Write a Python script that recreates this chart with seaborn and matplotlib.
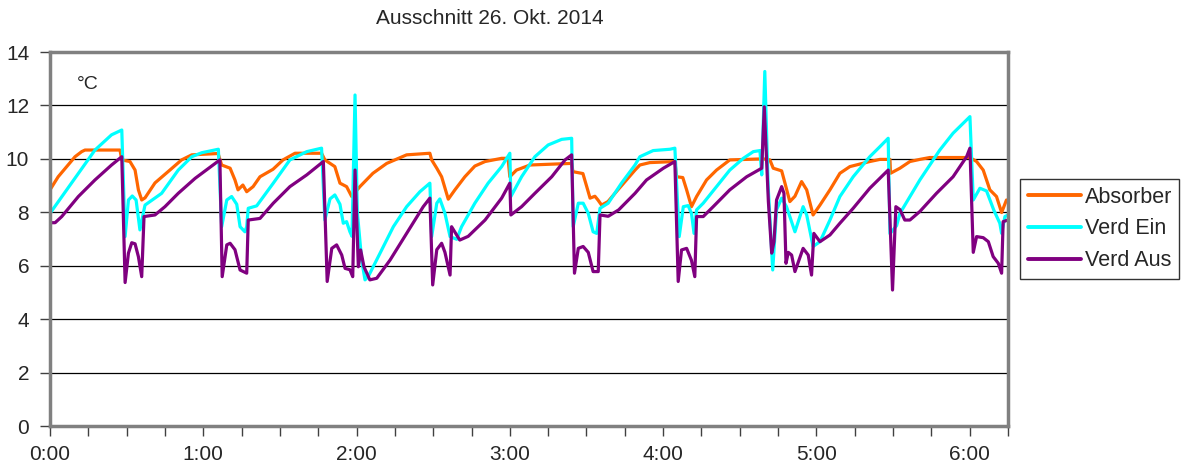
import matplotlib
matplotlib.use("Agg")
import matplotlib.pyplot as plt
import seaborn as sns
import pandas as pd
from matplotlib.ticker import MultipleLocator, FixedLocator

# ---- data (time in minutes after 0:00, temperature in °C) ----
absorber_t = [0, 3.2, 9.8, 12.4, 13.7, 27.4, 28.1, 31.3, 33.3, 34.6, 35.9, 37.2, 41.1, 46.2, 51.5, 55.5,
              65.8, 67.2, 70.5, 72.4, 73.6, 75.5, 77.0, 79.5, 82.2, 87.3, 91.2, 95.9, 106.3, 107.6, 111.5,
              113.5, 116.1, 118.1, 121.3, 126.4, 131.8, 139.6, 148.7, 149.4, 151.4, 153.3, 155.9, 158.5,
              162.4, 166.3, 170.3, 176.8, 179.3, 180.0, 182.6, 187.9, 204.2, 204.7, 208.6, 210.1, 211.4,
              213.3, 214.5, 215.9, 218.4, 222.3, 226.2, 229.0, 230.9, 234.8, 244.6, 245.3, 247.7, 249.2,
              251.1, 253.1, 257.0, 260.9, 266.1, 279.2, 281.8, 283.1, 286.4, 287.7, 289.6, 291.6, 294.2,
              296.2, 298.7, 301.4, 305.3, 309.2, 313.1, 320.9, 324.9, 328.8, 329.0, 332.7, 336.6, 340.5,
              344.4, 360.1, 362.7, 365.3, 367.9, 370.5, 372.5, 374.4]
absorber_v = [8.84, 9.33, 10.08, 10.27, 10.33, 10.33, 9.96, 9.9, 9.58, 8.84, 8.46, 8.54, 9.1, 9.52, 9.96, 10.15,
              10.2, 9.77, 9.65, 9.21, 8.84, 9.02, 8.77, 8.96, 9.33, 9.61, 9.96, 10.21, 10.21, 9.96, 9.71,
              9.09, 8.96, 8.59, 8.96, 9.46, 9.83, 10.15, 10.21, 9.96, 9.65, 9.33, 8.49, 8.84,
              9.33, 9.73, 9.9, 10.02, 10.02, 9.33, 9.58, 9.77, 9.83, 9.52, 9.45, 8.96, 8.53,
              8.6, 8.46, 8.27, 8.4, 8.84, 9.27, 9.58, 9.77, 9.86, 9.9, 9.33, 9.3, 8.84,
              8.21, 8.59, 9.21, 9.58, 9.96, 10.0, 9.96, 9.65, 9.55, 9.09, 8.4, 8.6, 9.15,
              8.84, 7.9, 8.27, 8.84, 9.46, 9.71, 9.9, 9.98, 9.98, 9.46, 9.65, 9.9, 9.98,
              10.05, 10.05, 9.9, 9.58, 8.84, 8.59, 7.99, 8.46]

verd_ein_t = [0, 17.6, 24.1, 28.1, 29.4, 30.7, 32.2, 33.7, 35.2, 36.5, 37.2, 43.7, 50.2, 55.5, 59.4, 65.9,
              67.2, 69.2, 71.1, 73.1, 74.4, 76.3, 77.0, 77.6, 80.9, 87.4, 93.9, 100.5, 106.3, 107.6, 109.6,
              111.5, 113.5, 114.8, 116.1, 117.4, 118.2, 119.4, 120.3, 122.0, 123.3, 124.6, 129.2, 134.4,
              139.6, 144.8, 148.7, 149.4, 151.4, 152.6, 154.6, 156.6, 159.2, 161.1, 166.3, 171.5, 176.8,
              180.0, 180.4, 184.6, 189.8, 195.0, 200.3, 204.2, 204.8, 206.8, 208.7, 210.7, 212.6, 214.0,
              215.3, 218.5, 223.7, 229.0, 230.9, 236.1, 242.7, 244.6, 246.3, 247.9, 249.8, 251.1, 252.1,
              253.1, 255.7, 260.9, 266.1, 271.4, 275.3, 277.9, 278.6, 279.8, 281.1, 282.9, 284.4, 286.4,
              288.3, 291.6, 294.8, 296.2, 298.7, 301.4, 305.3, 309.2, 314.4, 320.9, 324.9, 328.1, 328.8,
              331.4, 332.7, 340.5, 348.3, 353.5, 360.1, 361.4, 364.0, 366.6, 369.4, 371.8, 372.5, 373.8, 375.0]
verd_ein_v = [7.96, 10.33, 10.9, 11.08, 7.09, 8.46, 8.61, 8.46, 7.34, 7.96, 8.27, 8.71, 9.58, 10.08, 10.23, 10.36,
              7.46, 8.46, 8.59, 8.3, 7.46, 7.27, 7.46, 8.15, 8.24, 9.09, 9.96, 10.27, 10.4, 7.71, 8.5,
              8.65, 8.3, 7.59, 7.65, 7.27, 7.1, 12.39, 8.0, 6.21, 5.47, 5.6, 6.47, 7.46,
              8.21, 8.77, 9.09, 7.09, 8.34, 8.5, 7.96, 7.09, 6.99, 7.46, 8.34, 9.09, 9.71,
              10.21, 8.59, 9.33, 10.08, 10.52, 10.73, 10.77, 7.46, 8.34, 8.34, 7.96, 7.27, 7.21,
              8.15, 8.34, 9.09, 9.77, 10.08, 10.31, 10.36, 10.4, 7.09, 8.21, 8.25, 7.96, 7.21,
              8.09, 8.34, 8.96, 9.58, 10.02, 10.27, 10.31, 9.4, 13.27, 9.0, 5.84, 8.09, 8.53,
              8.21, 7.27, 8.21, 7.9, 6.72, 6.9, 7.71, 8.59, 9.33, 10.08, 10.46, 10.77, 7.2,
              7.5, 7.96, 9.21, 10.33, 10.96, 11.58, 8.46, 8.9, 8.8, 8.09, 7.59, 7.21, 7.84, 7.9]

verd_aus_t = [0, 2.0, 4.6, 11.1, 17.6, 24.1, 28.1, 29.4, 30.7, 32.0, 33.3, 34.6, 35.9, 36.8, 41.1, 45.0,
              50.2, 56.8, 63.3, 66.5, 67.4, 69.2, 70.5, 72.4, 74.4, 77.0, 77.6, 82.2, 87.4, 93.9, 100.5,
              107.0, 108.5, 110.3, 112.2, 114.2, 115.5, 117.4, 118.5, 119.4, 120.7, 121.6, 122.9, 125.2,
              127.9, 133.1, 139.6, 146.1, 148.7, 149.8, 151.4, 153.3, 154.6, 156.6, 157.2, 160.4, 163.7,
              170.3, 176.8, 180.0, 180.4, 184.6, 189.8, 196.4, 201.6, 204.2, 205.3, 206.8, 208.7, 210.7,
              212.6, 214.6, 215.3, 218.5, 222.6, 229.0, 233.5, 240.1, 244.6, 245.9, 247.2, 249.2, 251.1,
              252.4, 253.1, 255.7, 259.6, 266.1, 272.7, 278.6, 279.6, 281.2, 282.5, 283.4, 284.4, 286.4,
              287.3, 288.1, 289.0, 290.3, 291.6, 293.5, 294.8, 296.8, 298.1, 299.0, 301.4, 305.3, 309.2,
              314.4, 320.9, 328.1, 329.8, 331.1, 332.7, 334.6, 336.6, 340.5, 347.0, 353.5, 358.8, 360.1,
              361.4, 362.7, 365.3, 367.3, 369.2, 371.2, 372.5, 373.1, 375.0]
verd_aus_v = [7.61, 7.61, 7.84, 8.59, 9.21, 9.77, 10.08, 5.37, 6.47, 6.86, 6.82, 6.34, 5.59, 7.84, 7.9, 8.21,
              8.71, 9.27, 9.73, 9.96, 5.59, 6.78, 6.84, 6.6, 5.84, 5.72, 7.71, 7.77, 8.34, 8.96, 9.4,
              9.9, 5.41, 6.65, 6.78, 6.4, 5.9, 5.85, 5.59, 9.58, 5.96, 6.59, 5.96, 5.47,
              5.53, 6.21, 7.21, 8.21, 8.53, 5.28, 6.6, 6.84, 6.5, 5.65, 7.46, 6.96, 7.1,
              7.71, 8.53, 9.09, 7.9, 8.21, 8.71, 9.33, 9.96, 10.15, 5.72, 6.65, 6.72, 6.5,
              5.78, 5.78, 7.9, 7.85, 8.09, 8.71, 9.21, 9.65, 9.9, 5.41, 6.59, 6.65, 6.2,
              5.59, 7.84, 7.84, 8.21, 8.84, 9.33, 9.65, 11.95, 8.4, 6.47, 6.9, 8.46, 8.96,
              8.71, 6.09, 6.5, 6.4, 5.78, 6.3, 6.65, 6.4, 5.65, 7.21, 6.9, 7.15, 7.59,
              8.15, 8.9, 9.58, 5.09, 8.21, 8.1, 7.71, 7.71, 8.03, 8.71, 9.33, 10.08, 10.4,
              6.5, 7.09, 7.05, 6.9, 6.34, 6.09, 5.72, 7.65, 7.71]

series_names = ["Absorber", "Verd Ein", "Verd Aus"]
series_colors = ["#FF6600", "#00FFFF", "#800080"]
hour_labels = ["0:00", "1:00", "2:00", "3:00", "4:00", "5:00", "6:00"]
y_ticks = [0, 2, 4, 6, 8, 10, 12, 14]
title_text = "Ausschnitt 26. Okt. 2014"
unit_text = "°C"

# ---- build long table ----
frames = []
for name, t, v in zip(series_names, [absorber_t, verd_ein_t, verd_aus_t],
                      [absorber_v, verd_ein_v, verd_aus_v]):
    frames.append(pd.DataFrame({"t": t, "v": v, "series": name}))
df = pd.concat(frames, ignore_index=True)

sns.set_style("white")
plt.rcParams["font.family"] = ["Liberation Sans", "DejaVu Sans"]

fig = plt.figure(figsize=(11.83, 4.68), dpi=100)
ax = fig.add_axes([50 / 1183, 42 / 468, 958 / 1183, 374 / 468])

sns.lineplot(data=df, x="t", y="v", hue="series", hue_order=series_names,
             palette=dict(zip(series_names, series_colors)), sort=False, estimator=None,
             linewidth=2.3, ax=ax, legend=False)

ax.set_xlim(0, 375)
ax.set_ylim(0, 14)
ax.set_xlabel("")
ax.set_ylabel("")
ax.xaxis.set_major_locator(FixedLocator([60 * i for i in range(len(hour_labels))]))
ax.set_xticklabels(hour_labels)
ax.xaxis.set_minor_locator(MultipleLocator(15))
ax.set_yticks(y_ticks)
ax.set_yticklabels([str(v) for v in y_ticks])

ax.tick_params(axis="x", which="both", direction="out", length=7, width=1, color="#404040",
               bottom=True, labelsize=15, pad=7)
ax.tick_params(axis="y", which="major", direction="out", length=7, width=1, color="#404040",
               left=True, labelsize=15, pad=8)

ax.set_axisbelow(True)
for yv in y_ticks[1:-1]:
    ax.axhline(yv, color="black", lw=0.9, zorder=0.5)

for sp in ax.spines.values():
    sp.set_visible(True)
    sp.set_color("#808080")
    sp.set_linewidth(2.5)

ax.text(0.028, 0.912, unit_text, transform=ax.transAxes, fontsize=14, va="center", ha="left")
fig.text(490 / 1183, 1 - 18 / 468, title_text, fontsize=15, ha="center", va="center")

handles = [plt.Line2D([], [], color=c, lw=2.8) for c in series_colors]
leg = fig.legend(handles, series_names, loc="upper left", bbox_to_anchor=(1020 / 1183, 1 - 179 / 468),
                 borderaxespad=0, frameon=True, fancybox=False, fontsize=15.5, handlelength=2.5,
                 handletextpad=0.15, labelspacing=0.5, borderpad=0.35)
leg.get_frame().set_edgecolor("black")
leg.get_frame().set_linewidth(1.0)

fig.savefig("out.png", dpi=100)
